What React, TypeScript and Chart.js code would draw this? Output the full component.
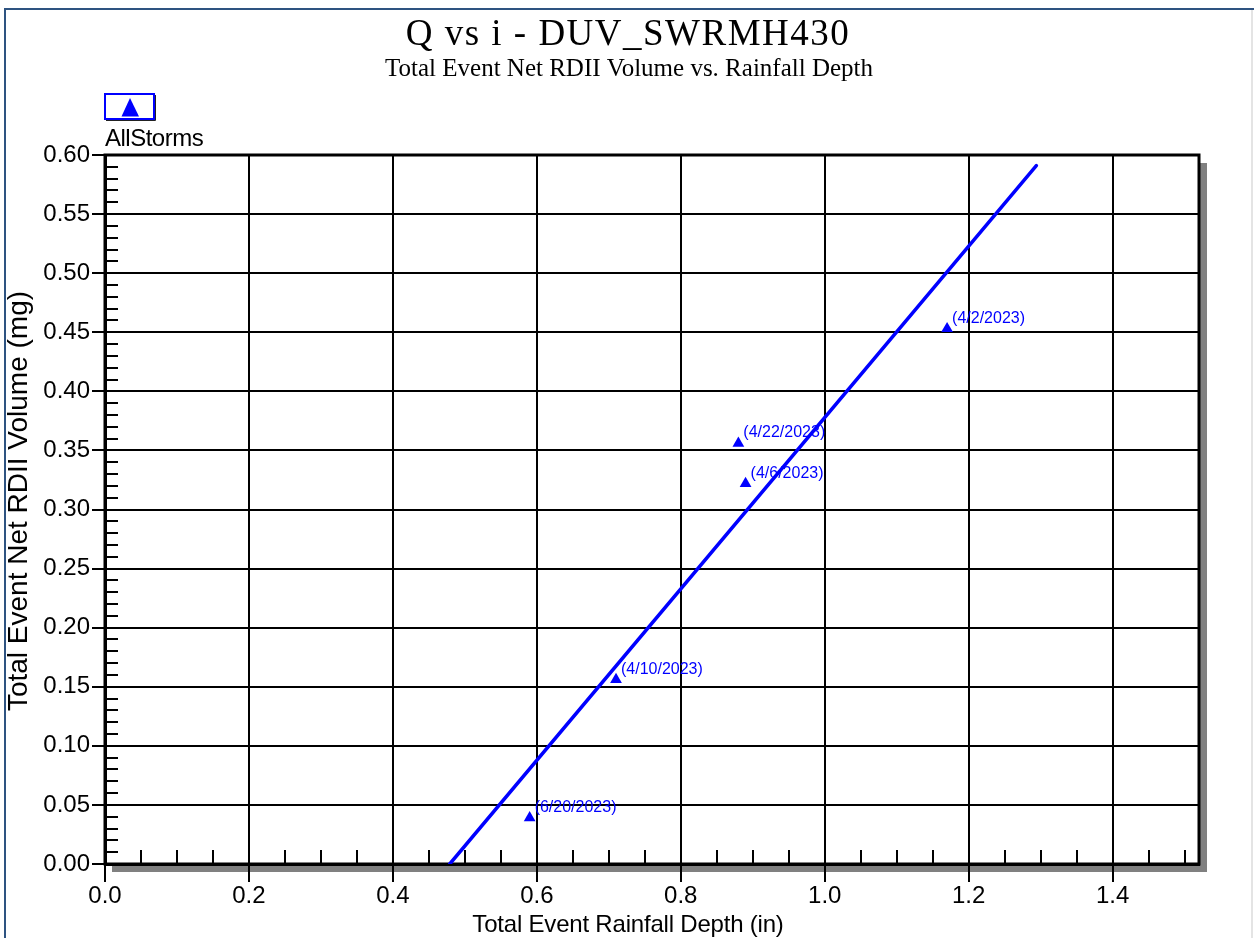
import React, { useEffect, useRef } from 'react';
import { Chart, registerables } from 'chart.js';

Chart.register(...registerables);

// ---- Data ----
const stormLabels = ['(6/20/2023)', '(4/10/2023)', '(4/22/2023)', '(4/6/2023)', '(4/2/2023)'];
const rainfallDepth = [0.59, 0.71, 0.88, 0.89, 1.17];
const rdiiVolume = [0.039, 0.156, 0.356, 0.322, 0.453];

// regression line end points
const fitLineX = [0.479, 1.294];
const fitLineY = [0.0, 0.591];

// ---- Axes ----
const xTickValues = [0, 0.2, 0.4, 0.6, 0.8, 1.0, 1.2, 1.4];
const yTickValues = [0, 0.05, 0.1, 0.15, 0.2, 0.25, 0.3, 0.35, 0.4, 0.45, 0.5, 0.55, 0.6];
const xMin = 0;
const xMax = 1.52;
const yMin = 0;
const yMax = 0.6;
const xMinorStep = 0.05;
const yMinorStep = 0.01;

const chartTitle = 'Q vs i - DUV_SWRMH430';
const chartSubtitle = 'Total Event Net RDII Volume vs. Rainfall Depth';
const xAxisTitle = 'Total Event Rainfall Depth (in)';
const yAxisTitle = 'Total Event Net RDII Volume (mg)';
const seriesName = 'AllStorms';

const BLUE = '#0000ff';
const SANS = "'Liberation Sans', Arial, sans-serif";
const SERIF = "'Liberation Serif', 'Times New Roman', serif";

const decorPlugin = {
  id: 'decor',
  beforeDraw(chart: any) {
    const { ctx, chartArea: a } = chart;
    ctx.save();
    ctx.fillStyle = '#ffffff';
    ctx.fillRect(0, 0, chart.width, chart.height);
    // drop shadow
    ctx.fillStyle = '#808080';
    ctx.fillRect(a.right, a.top + 8, 8, a.bottom - a.top);
    ctx.fillRect(a.left + 7, a.bottom, a.right - a.left + 1, 8);
    ctx.restore();
  },
  beforeDatasetsDraw(chart: any) {
    const { ctx, chartArea: a, scales } = chart;
    const xs = scales.x;
    const ys = scales.y;
    ctx.save();
    // minor ticks
    ctx.strokeStyle = '#000';
    ctx.lineWidth = 2;
    ctx.beginPath();
    const nx = Math.round((xMax - xMin) / xMinorStep);
    for (let i = 1; i <= nx; i++) {
      const v = xMin + i * xMinorStep;
      if (v >= xMax - 1e-9) break;
      if (Math.abs(v / 0.2 - Math.round(v / 0.2)) < 1e-6) continue;
      const px = Math.round(xs.getPixelForValue(v));
      ctx.moveTo(px, a.bottom);
      ctx.lineTo(px, a.bottom - 14);
    }
    const ny = Math.round((yMax - yMin) / yMinorStep);
    for (let i = 1; i < ny; i++) {
      const v = yMin + i * yMinorStep;
      if (Math.abs(v / 0.05 - Math.round(v / 0.05)) < 1e-6) continue;
      const py = Math.round(ys.getPixelForValue(v));
      ctx.moveTo(a.left, py);
      ctx.lineTo(a.left + 13, py);
    }
    ctx.stroke();
    // frame
    ctx.lineWidth = 3;
    ctx.strokeRect(a.left, a.top, a.right - a.left, a.bottom - a.top);
    ctx.restore();
  },
  afterDatasetsDraw(chart: any) {
    const { ctx } = chart;
    const meta = chart.getDatasetMeta(0);
    ctx.save();
    ctx.fillStyle = BLUE;
    ctx.font = `16px ${SANS}`;
    ctx.textAlign = 'left';
    ctx.textBaseline = 'alphabetic';
    meta.data.forEach((pt: any, i: number) => {
      ctx.fillText(stormLabels[i], pt.x + 5, pt.y - 6);
    });
    ctx.restore();
  },
  afterDraw(chart: any) {
    const { ctx } = chart;
    ctx.save();
    // titles
    ctx.fillStyle = '#000';
    ctx.textAlign = 'center';
    ctx.textBaseline = 'alphabetic';
    ctx.font = `37px ${SERIF}`;
    (ctx as any).letterSpacing = '1.5px';
    ctx.fillText(chartTitle, 628, 45);
    (ctx as any).letterSpacing = '0px';
    ctx.font = `25px ${SERIF}`;
    ctx.fillText(chartSubtitle, 629, 76);

    // axis titles
    ctx.textBaseline = 'middle';
    ctx.font = `24px ${SANS}`;
    (ctx as any).letterSpacing = '-0.2px';
    ctx.fillText(xAxisTitle, 628, 925);
    ctx.save();
    ctx.translate(19, 501);
    ctx.rotate(-Math.PI / 2);
    ctx.font = `28px ${SANS}`;
    (ctx as any).letterSpacing = '0px';
    ctx.fillText(yAxisTitle, 0, 0);
    ctx.restore();
    (ctx as any).letterSpacing = '0px';
    ctx.textBaseline = 'alphabetic';

    // legend
    ctx.fillStyle = '#fff';
    ctx.fillRect(105, 94, 49, 25);
    ctx.strokeStyle = '#222';
    ctx.lineWidth = 1;
    ctx.beginPath();
    ctx.moveTo(155.5, 95);
    ctx.lineTo(155.5, 120.5);
    ctx.lineTo(106, 120.5);
    ctx.stroke();
    ctx.strokeStyle = BLUE;
    ctx.lineWidth = 2;
    ctx.strokeRect(105, 94, 49, 25);
    ctx.fillStyle = BLUE;
    ctx.beginPath();
    ctx.moveTo(130, 98);
    ctx.lineTo(139, 116.5);
    ctx.lineTo(121.5, 116.5);
    ctx.closePath();
    ctx.fill();
    ctx.fillStyle = '#000';
    ctx.textAlign = 'left';
    ctx.font = `24px ${SANS}`;
    (ctx as any).letterSpacing = '-0.5px';
    ctx.fillText(seriesName, 105, 146);
    (ctx as any).letterSpacing = '0px';

    // outer frame
    ctx.strokeStyle = '#2e5381';
    ctx.lineWidth = 2;
    ctx.beginPath();
    ctx.moveTo(5, chart.height);
    ctx.lineTo(5, 9);
    ctx.lineTo(chart.width, 9);
    ctx.stroke();
    ctx.strokeStyle = '#e4e4e4';
    ctx.lineWidth = 2;
    ctx.beginPath();
    ctx.moveTo(1252, 10);
    ctx.lineTo(1252, chart.height);
    ctx.stroke();
    ctx.restore();
  },
};

export default function App() {
  const canvasRef = useRef<HTMLCanvasElement | null>(null);

  useEffect(() => {
    if (!canvasRef.current) return;
    const chart = new Chart(canvasRef.current, {
      type: 'scatter',
      data: {
        datasets: [
          {
            label: seriesName,
            data: rainfallDepth.map((x, i) => ({ x, y: rdiiVolume[i] })),
            pointStyle: 'triangle',
            pointRadius: 6.8,
            pointHoverRadius: 6.8,
            backgroundColor: BLUE,
            borderColor: BLUE,
            borderWidth: 0,
            showLine: false,
          },
          {
            label: 'Fit',
            data: fitLineX.map((x, i) => ({ x, y: fitLineY[i] })),
            showLine: true,
            borderColor: BLUE,
            borderWidth: 3.5,
            borderCapStyle: 'round',
            pointRadius: 0,
            pointHoverRadius: 0,
            fill: false,
          } as any,
        ],
      },
      options: {
        responsive: false,
        animation: false,
        devicePixelRatio: 1,
        layout: { padding: { top: 155, right: 55, left: 0, bottom: 0 } },
        plugins: {
          legend: { display: false },
          title: { display: false },
          tooltip: { enabled: false },
        },
        scales: {
          x: {
            type: 'linear',
            min: xMin,
            max: xMax,
            afterFit: (s: any) => {
              s.height = 74;
            },
            afterBuildTicks: (s: any) => {
              s.ticks = xTickValues.map((v) => ({ value: v }));
            },
            ticks: {
              callback: (v: any) => Number(v).toFixed(1),
              font: { family: SANS, size: 24 },
              color: '#000',
              padding: 0,
              maxRotation: 0,
              autoSkip: false,
            },
            grid: { color: '#000', lineWidth: 2, tickLength: 18, tickColor: '#000', tickWidth: 2 },
            border: { display: true, color: '#000', width: 3 },
            title: { display: false },
          },
          y: {
            type: 'linear',
            min: yMin,
            max: yMax,
            afterFit: (s: any) => {
              s.width = 105;
            },
            afterBuildTicks: (s: any) => {
              s.ticks = yTickValues.map((v) => ({ value: v }));
            },
            ticks: {
              callback: (v: any) => Number(v).toFixed(2),
              font: { family: SANS, size: 24 },
              color: '#000',
              padding: 2,
              autoSkip: false,
            },
            grid: { color: '#000', lineWidth: 2, tickLength: 13, tickColor: '#000', tickWidth: 2 },
            border: { display: true, color: '#000', width: 3 },
            title: { display: false },
          },
        },
      },
      plugins: [decorPlugin],
    } as any);
    return () => chart.destroy();
  }, []);

  return (
    <div style={{ position: 'absolute', left: 0, top: 0, width: 1254, height: 938, background: '#fff' }}>
      <canvas ref={canvasRef} width={1254} height={938} style={{ display: 'block' }} />
    </div>
  );
}
